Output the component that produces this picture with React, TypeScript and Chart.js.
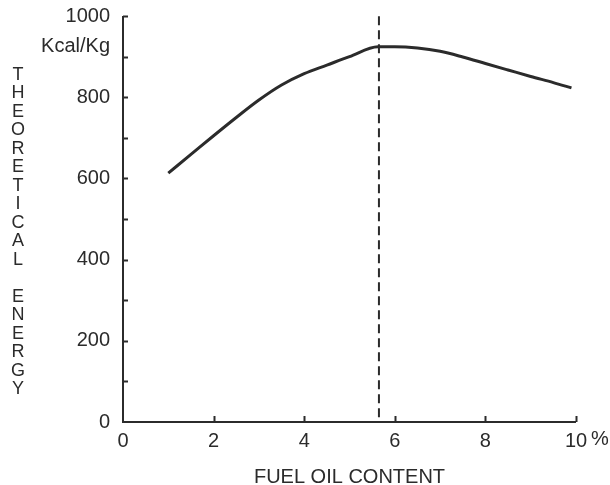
import React, { useEffect, useRef } from "react";
import { Chart, registerables } from "chart.js";

Chart.register(...registerables);

const fuelOil = [1.0, 1.5, 2.0, 2.5, 3.0, 3.5, 4.0, 4.5, 5.0, 5.63, 6.0, 6.5, 7.0, 7.5, 8.0, 8.5, 9.0, 9.5, 9.9];
const energy = [613, 659, 705, 750, 793, 830, 858, 879, 900, 924, 924, 921, 913, 899, 883, 867, 851, 836, 823];
const optimumX = 5.65;
const dashedSpan = [12, 1005];
const xTicks = [0, 2, 4, 6, 8, 10];
const yLabels: Record<number, string> = { 0: "0", 200: "200", 400: "400", 600: "600", 800: "800", 1000: "1000" };
const unitValue = 900;
const unitText = "Kcal/Kg";
const yAxisTitle = "THEORETICAL ENERGY";
const xAxisTitle = "FUEL OIL CONTENT";
const unitLabel = "%";

const INK = "#2b2b2b";
const FONT = "'Liberation Sans', Arial, sans-serif";

const axesPlugin = {
  id: "axesPlugin",
  afterDraw(chart: any) {
    const { ctx, chartArea, scales } = chart;
    const x = scales.x;
    const y = scales.y;
    const left = chartArea.left;
    const bottom = y.getPixelForValue(0);
    const top = y.getPixelForValue(1000);
    const right = x.getPixelForValue(10);
    ctx.save();
    ctx.strokeStyle = INK;
    ctx.lineWidth = 2;
    ctx.beginPath();
    ctx.moveTo(left, top);
    ctx.lineTo(left, bottom);
    ctx.lineTo(right, bottom);
    ctx.stroke();
    for (let v = 100; v <= 1000; v += 100) {
      const py = Math.round(y.getPixelForValue(v)) + 0.5;
      ctx.beginPath();
      ctx.moveTo(left, py);
      ctx.lineTo(left + 5, py);
      ctx.stroke();
    }
    for (const v of xTicks) {
      if (v === 0) continue;
      const px = Math.round(x.getPixelForValue(v)) + 0.5;
      ctx.beginPath();
      ctx.moveTo(px, bottom);
      ctx.lineTo(px, bottom - 6);
      ctx.stroke();
    }
    ctx.fillStyle = INK;
    ctx.font = `18px ${FONT}`;
    ctx.textAlign = "center";
    ctx.textBaseline = "top";
    yAxisTitle.split("").forEach((c, i) => {
      if (c !== " ") ctx.fillText(c, 18, 66 + i * 18.5);
    });
    ctx.font = `20px ${FONT}`;
    ctx.textAlign = "right";
    ctx.textBaseline = "middle";
    ctx.fillText(unitText, left - 13, y.getPixelForValue(unitValue) - 10);
    ctx.textAlign = "left";
    ctx.textBaseline = "top";
    ctx.fillText(unitLabel, x.getPixelForValue(10) + 15, 429);
    ctx.restore();
  },
};

export default function App() {
  const ref = useRef<HTMLCanvasElement>(null);
  useEffect(() => {
    if (!ref.current) return;
    const chart = new Chart(ref.current, {
      type: "line",
      data: {
        datasets: [
          {
            data: fuelOil.map((v, i) => ({ x: v, y: energy[i] })),
            borderColor: INK,
            borderWidth: 3,
            pointRadius: 0,
            cubicInterpolationMode: "monotone",
            fill: false,
          },
          {
            data: dashedSpan.map((v) => ({ x: optimumX, y: v })),
            borderColor: INK,
            borderWidth: 2,
            borderDash: [9, 5],
            pointRadius: 0,
            fill: false,
            clip: false as any,
          },
        ],
      },
      plugins: [axesPlugin],
      options: {
        animation: false,
        responsive: false,
        devicePixelRatio: 1,
        layout: { padding: { top: 16, right: 34, left: 0, bottom: 0 } },
        plugins: { legend: { display: false }, tooltip: { enabled: false } },
        scales: {
          x: {
            type: "linear",
            min: 0,
            max: 10,
            border: { display: false },
            grid: { display: false, drawTicks: false },
            afterFit: (s: any) => { s.height = 63; s.paddingLeft = 0; s.paddingRight = 0; },
            afterBuildTicks: (s: any) => { s.ticks = xTicks.map((v) => ({ value: v })); },
            ticks: {
              color: INK,
              padding: 7,
              maxRotation: 0,
              font: { family: FONT, size: 20 },
              callback: (v: any) => String(v),
            },
            title: {
              display: true,
              text: xAxisTitle,
              color: INK,
              padding: { top: 0, bottom: 0 },
              font: { family: FONT, size: 20, lineHeight: 0.8 },
            },
          },
          y: {
            type: "linear",
            min: 0,
            max: 1000,
            border: { display: false },
            grid: { display: false, drawTicks: false },
            afterFit: (s: any) => { s.width = 123; s.paddingTop = 0; s.paddingBottom = 0; },
            ticks: {
              stepSize: 100,
              color: INK,
              padding: 13,
              autoSkip: false,
              font: { family: FONT, size: 20, lineHeight: 0.6 },
              callback: (v: any) => (yLabels[v as number] ?? ""),
            },
          },
        },
      },
    });
    return () => chart.destroy();
  }, []);
  return (
    <canvas
      ref={ref}
      width={610}
      height={485}
      style={{ position: "fixed", left: 0, top: 0, width: 610, height: 485, background: "#fff" }}
    />
  );
}
